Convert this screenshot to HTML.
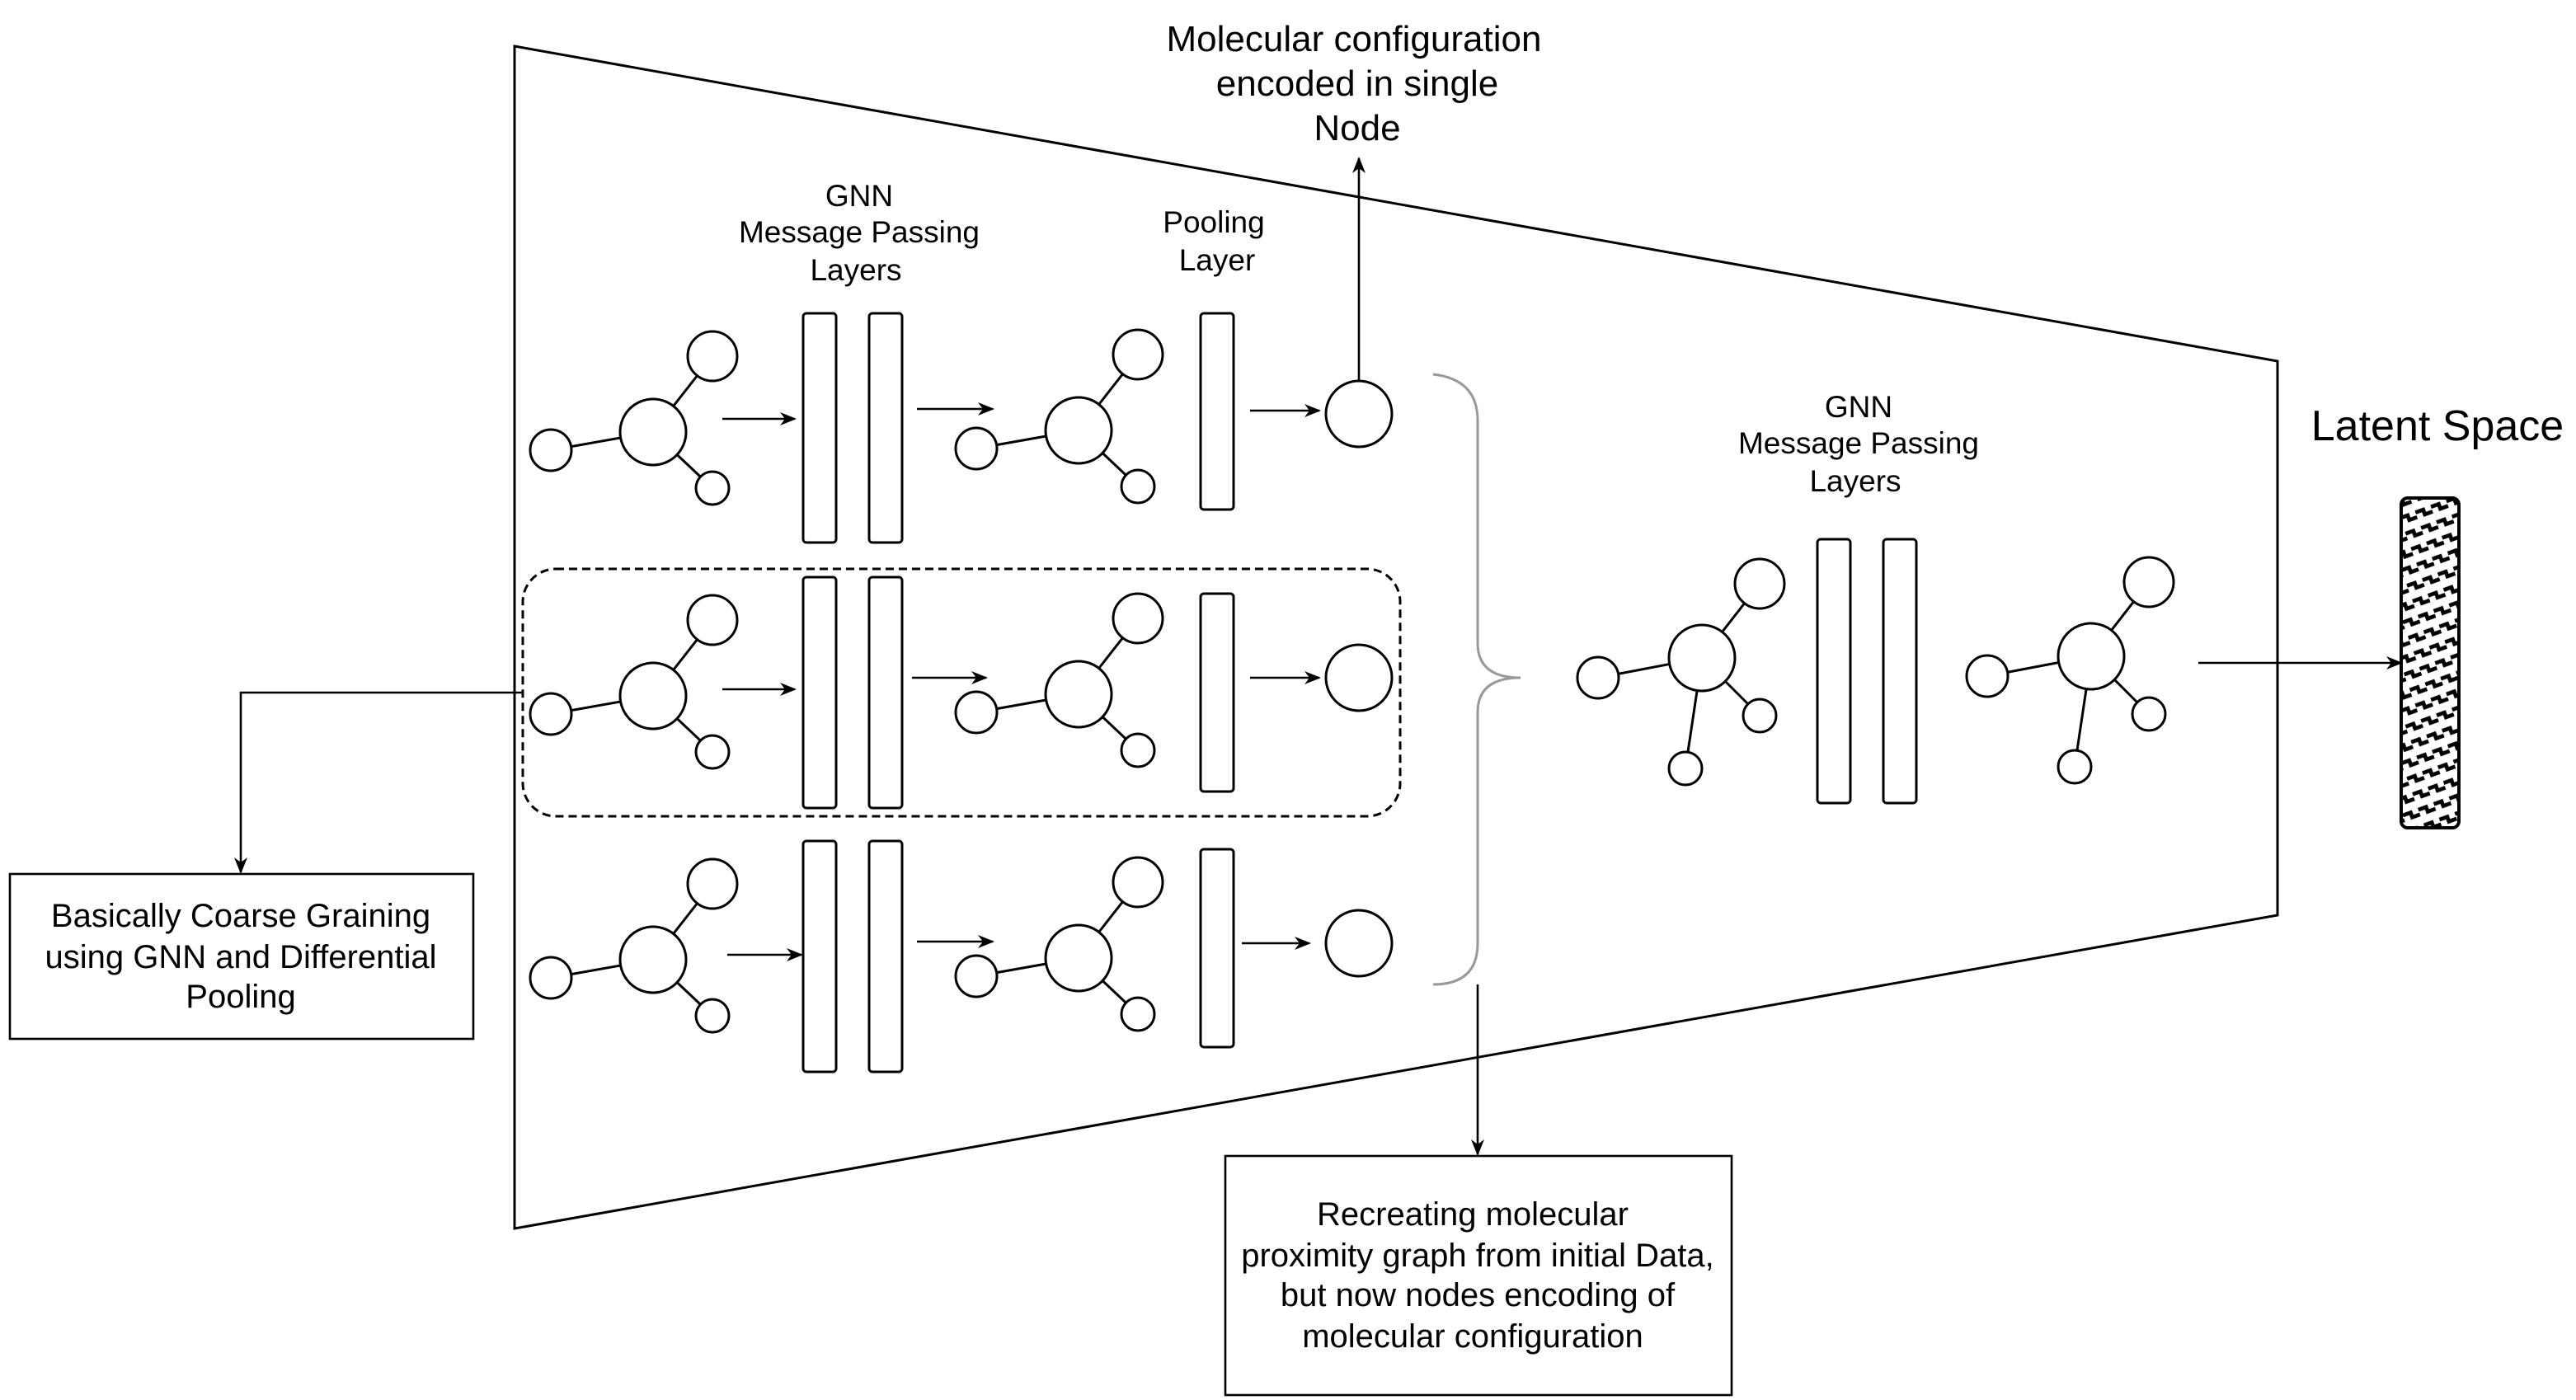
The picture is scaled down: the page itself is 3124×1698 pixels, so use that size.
<!DOCTYPE html>
<html><head><meta charset="utf-8"><style>
html,body{margin:0;padding:0;background:#fff;width:3124px;height:1698px;overflow:hidden}
svg{display:block}
text{font-family:"Liberation Sans",sans-serif;fill:#000}
</style></head><body>
<svg width="3124" height="1698" viewBox="0 0 1562 849" xmlns="http://www.w3.org/2000/svg">
<defs>
<marker id="ah" markerWidth="10" markerHeight="8" refX="9" refY="4" orient="auto" markerUnits="userSpaceOnUse">
<path d="M0,0 L10,4 L0,8 L3,4 z" fill="#000"/></marker>
<pattern id="zz" width="10" height="10" patternUnits="userSpaceOnUse" patternTransform="rotate(-20)">
<rect width="10" height="10" fill="#fff"/>
<path d="M0,3 L5,3 L5,6 L10,6" stroke="#000" stroke-width="2.4" fill="none"/>
</pattern>
<g id="mol" fill="#fff" stroke="#000" stroke-width="1.5">
<line x1="0" y1="0" x2="-62" y2="11"/><line x1="0" y1="0" x2="36" y2="-46"/><line x1="0" y1="0" x2="36" y2="34"/>
<circle cx="0" cy="0" r="20"/><circle cx="-62" cy="11" r="12.5"/><circle cx="36" cy="-46" r="15"/><circle cx="36" cy="34" r="10"/>
</g>
<g id="mol2" fill="#fff" stroke="#000" stroke-width="1.5">
<line x1="0" y1="0" x2="-63" y2="12"/><line x1="0" y1="0" x2="35" y2="-45"/><line x1="0" y1="0" x2="35" y2="35"/><line x1="0" y1="0" x2="-10" y2="67"/>
<circle cx="0" cy="0" r="20"/><circle cx="-63" cy="12" r="12.5"/><circle cx="35" cy="-45" r="15"/><circle cx="35" cy="35" r="10"/><circle cx="-10" cy="67" r="10"/>
</g>
</defs>
<polygon points="312,28 1381,219 1381,555 312,745" fill="none" stroke="#000" stroke-width="1.5"/>
<rect x="317" y="345" width="532" height="150" rx="20" fill="none" stroke="#000" stroke-width="1.5" stroke-dasharray="5,3"/>
<g fill="none" stroke="#000" stroke-width="1.5">
<rect x="487" y="190" width="20" height="139" rx="2"/><rect x="527" y="190" width="20" height="139" rx="2"/>
<rect x="487" y="350" width="20" height="140" rx="2"/><rect x="527" y="350" width="20" height="140" rx="2"/>
<rect x="487" y="510" width="20" height="140" rx="2"/><rect x="527" y="510" width="20" height="140" rx="2"/>
<rect x="728" y="190" width="20" height="119" rx="2"/><rect x="728" y="360" width="20" height="120" rx="2"/><rect x="728" y="515" width="20" height="120" rx="2"/>
<rect x="1102" y="327" width="20" height="160" rx="2"/><rect x="1142" y="327" width="20" height="160" rx="2"/>
<circle cx="824" cy="251" r="20"/><circle cx="824" cy="411" r="20"/><circle cx="824" cy="572" r="20"/>
</g>
<use href="#mol" x="396" y="262"/><use href="#mol" x="654" y="261"/>
<use href="#mol" x="396" y="422"/><use href="#mol" x="654" y="421"/>
<use href="#mol" x="396" y="582"/><use href="#mol" x="654" y="581"/>
<use href="#mol2" x="1032" y="399"/><use href="#mol2" x="1268" y="398"/>
<g stroke="#000" stroke-width="1.3" fill="none" marker-end="url(#ah)">
<line x1="438" y1="254" x2="482" y2="254"/><line x1="556" y1="248" x2="602" y2="248"/><line x1="758" y1="249" x2="800" y2="249"/>
<line x1="438" y1="418" x2="482" y2="418"/><line x1="553" y1="411" x2="598" y2="411"/><line x1="758" y1="411" x2="800" y2="411"/>
<line x1="441" y1="579" x2="486" y2="579"/><line x1="556" y1="571" x2="602" y2="571"/><line x1="753" y1="572" x2="794" y2="572"/>
<line x1="824" y1="231" x2="824" y2="96"/>
<line x1="1333" y1="402" x2="1456" y2="402"/>
<polyline points="317,420 146,420 146,529"/>
<line x1="896" y1="597" x2="896" y2="700"/>
</g>
<path d="M869,227 Q896,230 896,255 L896,390 Q896,411 922,411 Q896,411 896,432 L896,572 Q896,597 869,597" fill="none" stroke="#999" stroke-width="1.5"/>
<rect x="1456" y="302" width="35" height="200" rx="4" fill="url(#zz)" stroke="#000" stroke-width="2"/>
<rect x="6" y="530" width="281" height="100" fill="none" stroke="#000" stroke-width="1.3"/>
<rect x="743" y="701" width="307" height="145" fill="none" stroke="#000" stroke-width="1.3"/>
<g font-size="18.5" text-anchor="middle">
<text x="521" y="125">GNN</text><text x="521" y="147">Message Passing</text><text x="519" y="170">Layers</text>
<text x="736" y="141">Pooling</text><text x="738" y="164">Layer</text>
<text x="1127" y="253">GNN</text><text x="1127" y="275">Message Passing</text><text x="1125" y="298">Layers</text>
</g>
<g font-size="22" text-anchor="middle">
<text x="821" y="31">Molecular configuration</text><text x="823" y="58">encoded in single</text><text x="823" y="85">Node</text>
</g>
<text x="1478" y="267" font-size="26" text-anchor="middle">Latent Space</text>
<g font-size="20" text-anchor="middle">
<text x="146" y="562">Basically Coarse Graining</text><text x="146" y="587">using GNN and Differential</text><text x="146" y="611">Pooling</text>
<text x="893" y="743">Recreating molecular</text><text x="896" y="768">proximity graph from initial Data,</text><text x="896" y="792">but now nodes encoding of</text><text x="893" y="817">molecular configuration</text>
</g>
</svg>
</body></html>
